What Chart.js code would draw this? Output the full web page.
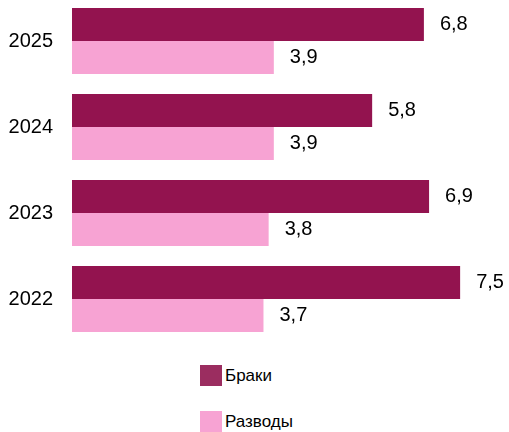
<!DOCTYPE html>
<html>
<head>
<meta charset="utf-8">
<script src="https://cdn.jsdelivr.net/npm/chart.js@4"></script>
<style>
  html, body { margin: 0; padding: 0; background: #fff; }
  body { width: 509px; height: 432px; overflow: hidden; position: relative; font-family: "Liberation Sans", Arial, sans-serif; }
  #bars { position: absolute; left: 0; top: -2px; }
  .legend-item { position: absolute; left: 200px; height: 21px; font-size: 17px; line-height: 21px; color: #000; }
  .legend-item span { display: inline-block; width: 22px; height: 21px; vertical-align: top; margin-right: 3px; }
</style>
</head>
<body>
<canvas id="bars" width="509" height="344"></canvas>
<div class="legend-item" style="top:365px"><span style="background:#9b2d60"></span>Браки</div>
<div class="legend-item" style="top:411px"><span style="background:#f7a3d3"></span>Разводы</div>
<script>
const years = ['2025', '2024', '2023', '2022'];
const marriages = [6.8, 5.8, 6.9, 7.5];
const divorces = [3.9, 3.9, 3.8, 3.7];

// value labels at bar ends, comma decimal
const valueLabels = {
  id: 'valueLabels',
  afterDatasetsDraw(chart) {
    let ctx = chart.ctx;
    ctx.save();
    ctx.font = '20px "Liberation Sans", Arial, sans-serif';
    ctx.fillStyle = '#000';
    ctx.textAlign = 'left';
    ctx.textBaseline = 'middle';
    chart.data.datasets.forEach(function (ds, i) {
      chart.getDatasetMeta(i).data.forEach(function (bar, j) {
        ctx.fillText(ds.data[j].toFixed(1).replace('.', ','), bar.x + 16, bar.y);
      });
    });
    ctx.restore();
  }
};

new Chart(document.getElementById('bars'), {
  type: 'bar',
  data: {
    labels: years,
    datasets: [{
      label: 'Браки',
      data: marriages,
      backgroundColor: '#93134f',
      categoryPercentage: 0.767,
      barPercentage: 1
    },
    {
      label: 'Разводы',
      data: divorces,
      backgroundColor: '#f7a3d3',
      categoryPercentage: 0.767,
      barPercentage: 1
    }]
  },
  options: {
    indexAxis: 'y',
    responsive: false,
    animation: false,
    layout: { padding: { left: 0, right: 23, top: 0, bottom: 0 } },
    plugins: { legend: { display: false }, tooltip: { enabled: false } },
    scales: {
      x: { display: false, min: 0, max: 8 },
      y: {
        grid: { display: false, drawTicks: false },
        border: { display: false },
        ticks: { color: '#000', padding: 19, font: { size: 20, family: '"Liberation Sans", Arial, sans-serif' } },
        afterFit(scale) {
          scale.width = 72;
          scale.paddingTop = 0;
          scale.paddingBottom = 0;
        }
      }
    }
  },
  plugins: [valueLabels]
});
</script>
</body>
</html>
